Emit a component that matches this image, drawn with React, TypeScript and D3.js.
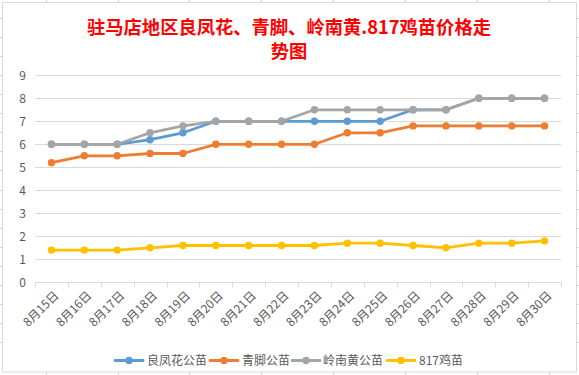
import React from "react";
import * as d3 from "d3";

const categories = ["8月15日","8月16日","8月17日","8月18日","8月19日","8月20日","8月21日","8月22日","8月23日","8月24日","8月25日","8月26日","8月27日","8月28日","8月29日","8月30日"];
const liangFengHua = [6,6,6,6.2,6.5,7,7,7,7,7,7,7.5,7.5,8,8,8];
const qingJiao = [5.2,5.5,5.5,5.6,5.6,6,6,6,6,6.5,6.5,6.8,6.8,6.8,6.8,6.8];
const lingNanHuang = [6,6,6,6.5,6.8,7,7,7,7.5,7.5,7.5,7.5,7.5,8,8,8];
const jiMiao817 = [1.4,1.4,1.4,1.5,1.6,1.6,1.6,1.6,1.6,1.7,1.7,1.6,1.5,1.7,1.7,1.8];
const yTicks = [0,1,2,3,4,5,6,7,8,9];
const seriesNames = ["良凤花公苗","青脚公苗","岭南黄公苗","817鸡苗"];
const seriesColors = ["#5B9BD5","#ED7D31","#A5A5A5","#FFC000"];
const seriesData = [liangFengHua, qingJiao, lingNanHuang, jiMiao817];
const titleLines = ["驻马店地区良凤花、青脚、岭南黄.817鸡苗价格走","势图"];

const W = 579, H = 375;
const font = "'Noto Sans CJK SC', 'Microsoft YaHei', sans-serif";

export default function App() {
  const left = 35, right = 561, top = 75.3, bottom = 282.3;
  const x = d3.scaleBand<string>().domain(categories).range([left, right]);
  const y = d3.scaleLinear().domain([0, 9]).range([bottom, top]);
  const cx = (c: string) => (x(c) as number) + x.bandwidth() / 2;
  const line = d3.line<number>().x((_, i) => cx(categories[i])).y((v) => y(v));

  const colLines = [46, 118, 189, 261, 333, 405, 477, 549];
  const rowLines = d3.range(0, 18).map((k) => 18 + k * 19.06);
  const legendItems = [
    { lx: 115, tx: 147 },
    { lx: 210, tx: 242 },
    { lx: 292, tx: 323 },
    { lx: 387, tx: 419 },
  ];
  const boundaries = d3.range(categories.length + 1).map((i) => left + i * x.step());

  return (
    <svg width={W} height={H} style={{ position: "absolute", left: 0, top: 0 }} fontFamily={font}>
      <rect x={0} y={0} width={W} height={H} fill="#fff" />
      {colLines.map((c, i) => (
        <line key={"c" + i} x1={c + 0.5} x2={c + 0.5} y1={0} y2={H} stroke="#d4d4d4" />
      ))}
      {rowLines.map((r, i) => (
        <line key={"r" + i} x1={0} x2={W} y1={Math.round(r) + 0.5} y2={Math.round(r) + 0.5} stroke="#d4d4d4" />
      ))}
      <rect x={2.5} y={2.5} width={574} height={369.5} fill="#fff" stroke="#d9d9d9" />
      {titleLines.map((t, i) => (
        <text key={"t" + i} x={289} y={34 + i * 24} textAnchor="middle" fill="#FF0000" fontSize={18.3} fontWeight="bold">
          {t}
        </text>
      ))}
      {yTicks.map((t) => (
        <g key={"y" + t}>
          <line x1={left} x2={right} y1={Math.round(y(t)) + 0.5} y2={Math.round(y(t)) + 0.5} stroke="#d9d9d9" />
          <text x={26} y={y(t)} dy="0.35em" textAnchor="end" fontSize={12} fill="#595959">{t}</text>
        </g>
      ))}
      {boundaries.map((b, i) => (
        <line key={"b" + i} x1={Math.round(b) + 0.5} x2={Math.round(b) + 0.5} y1={bottom} y2={bottom + 5} stroke="#d9d9d9" />
      ))}
      {categories.map((c) => (
        <text key={c} transform={`translate(${cx(c) + 5},${bottom + 11}) rotate(-45)`} textAnchor="end" fontSize={12} fill="#595959" dy="0.35em">
          {c}
        </text>
      ))}
      {seriesData.map((s, si) => (
        <g key={"s" + si}>
          <path d={line(s) as string} fill="none" stroke={seriesColors[si]} strokeWidth={2.8} strokeLinejoin="round" strokeLinecap="round" />
          {s.map((v, i) => (
            <circle key={i} cx={cx(categories[i])} cy={y(v)} r={3.7} fill={seriesColors[si]} />
          ))}
        </g>
      ))}
      {legendItems.map((li, i) => (
        <g key={"l" + i}>
          <line x1={li.lx} x2={li.lx + 28} y1={360.5} y2={360.5} stroke={seriesColors[i]} strokeWidth={2.8} strokeLinecap="round" />
          <circle cx={li.lx + 14} cy={360.5} r={3.7} fill={seriesColors[i]} />
          <text x={li.tx} y={360.5} dy="0.35em" fontSize={12} fill="#595959">{seriesNames[i]}</text>
        </g>
      ))}
    </svg>
  );
}
